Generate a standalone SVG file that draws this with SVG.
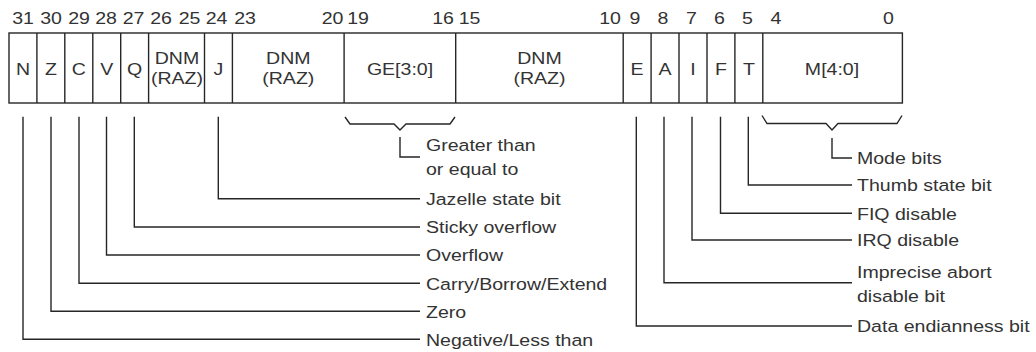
<svg xmlns="http://www.w3.org/2000/svg" width="1036" height="352" viewBox="0 0 1036 352">
<style>
  text { font-family: "Liberation Sans", Arial, sans-serif; font-size: 17px; fill: #333; }
  .c { text-anchor: middle; }
  .box { fill: #fff; stroke: #262626; stroke-width: 1.4; }
  .ln { fill: none; stroke: #262626; stroke-width: 1.4; }
</style>
<rect width="1036" height="352" fill="#fff"/>

<g id="bit-numbers">
  <text class="c" transform="translate(23 23.5) scale(1.15 1)">31</text>
  <text class="c" transform="translate(51 23.5) scale(1.15 1)">30</text>
  <text class="c" transform="translate(79 23.5) scale(1.15 1)">29</text>
  <text class="c" transform="translate(106 23.5) scale(1.15 1)">28</text>
  <text class="c" transform="translate(133.5 23.5) scale(1.15 1)">27</text>
  <text class="c" transform="translate(161 23.5) scale(1.15 1)">26</text>
  <text class="c" transform="translate(189.5 23.5) scale(1.15 1)">25</text>
  <text class="c" transform="translate(216.5 23.5) scale(1.15 1)">24</text>
  <text class="c" transform="translate(245 23.5) scale(1.15 1)">23</text>
  <text class="c" transform="translate(332.5 23.5) scale(1.15 1)">20</text>
  <text class="c" transform="translate(358 23.5) scale(1.15 1)">19</text>
  <text class="c" transform="translate(443 23.5) scale(1.15 1)">16</text>
  <text class="c" transform="translate(469.5 23.5) scale(1.15 1)">15</text>
  <text class="c" transform="translate(610 23.5) scale(1.15 1)">10</text>
  <text class="c" transform="translate(635 23.5) scale(1.15 1)">9</text>
  <text class="c" transform="translate(663 23.5) scale(1.15 1)">8</text>
  <text class="c" transform="translate(691.5 23.5) scale(1.15 1)">7</text>
  <text class="c" transform="translate(719.5 23.5) scale(1.15 1)">6</text>
  <text class="c" transform="translate(747.5 23.5) scale(1.15 1)">5</text>
  <text class="c" transform="translate(776 23.5) scale(1.15 1)">4</text>
  <text class="c" transform="translate(888.5 23.5) scale(1.15 1)">0</text>
</g>

<g id="register">
  <rect class="box" x="9" y="33" width="893.4" height="70"/>
  <g id="field-N"><text class="c" transform="translate(23 74.5) scale(1.15 1)">N</text></g>
  <g id="field-Z"><line class="ln" x1="36.9" y1="33" x2="36.9" y2="103"/><text class="c" transform="translate(50.9 74.5) scale(1.15 1)">Z</text></g>
  <g id="field-C"><line class="ln" x1="64.8" y1="33" x2="64.8" y2="103"/><text class="c" transform="translate(78.8 74.5) scale(1.15 1)">C</text></g>
  <g id="field-V"><line class="ln" x1="92.8" y1="33" x2="92.8" y2="103"/><text class="c" transform="translate(106.8 74.5) scale(1.15 1)">V</text></g>
  <g id="field-Q"><line class="ln" x1="120.7" y1="33" x2="120.7" y2="103"/><text class="c" transform="translate(134.7 74.5) scale(1.15 1)">Q</text></g>
  <g id="field-DNM-26-25"><line class="ln" x1="148.6" y1="33" x2="148.6" y2="103"/>
    <text class="c" transform="translate(177 63.5) scale(1.15 1)">DNM</text>
    <text class="c" transform="translate(177 84) scale(1.15 1)">(RAZ)</text></g>
  <g id="field-J"><line class="ln" x1="204.5" y1="33" x2="204.5" y2="103"/><text class="c" transform="translate(218.4 74.5) scale(1.15 1)">J</text></g>
  <g id="field-DNM-23-20"><line class="ln" x1="232.4" y1="33" x2="232.4" y2="103"/>
    <text class="c" transform="translate(288.3 63.5) scale(1.15 1)">DNM</text>
    <text class="c" transform="translate(288.3 84) scale(1.15 1)">(RAZ)</text></g>
  <g id="field-GE"><line class="ln" x1="344.1" y1="33" x2="344.1" y2="103"/><text class="c" transform="translate(400 74.5) scale(1.15 1)">GE[3:0]</text></g>
  <g id="field-DNM-15-10"><line class="ln" x1="455.7" y1="33" x2="455.7" y2="103"/>
    <text class="c" transform="translate(539.5 63.5) scale(1.15 1)">DNM</text>
    <text class="c" transform="translate(539.5 84) scale(1.15 1)">(RAZ)</text></g>
  <g id="field-E"><line class="ln" x1="623.2" y1="33" x2="623.2" y2="103"/><text class="c" transform="translate(637 74.5) scale(1.15 1)">E</text></g>
  <g id="field-A"><line class="ln" x1="651.1" y1="33" x2="651.1" y2="103"/><text class="c" transform="translate(665 74.5) scale(1.15 1)">A</text></g>
  <g id="field-I"><line class="ln" x1="679" y1="33" x2="679" y2="103"/><text class="c" transform="translate(693 74.5) scale(1.15 1)">I</text></g>
  <g id="field-F"><line class="ln" x1="707" y1="33" x2="707" y2="103"/><text class="c" transform="translate(720.9 74.5) scale(1.15 1)">F</text></g>
  <g id="field-T"><line class="ln" x1="734.9" y1="33" x2="734.9" y2="103"/><text class="c" transform="translate(748.9 74.5) scale(1.15 1)">T</text></g>
  <g id="field-M"><line class="ln" x1="762.8" y1="33" x2="762.8" y2="103"/><text class="c" transform="translate(832 74.5) scale(1.15 1)">M[4:0]</text></g>
</g>

<g id="connectors">
  <path class="ln" d="M23,116.7 V339.3 H420"/>
  <path class="ln" d="M51,116.7 V311.3 H420"/>
  <path class="ln" d="M79,116.7 V283.3 H420"/>
  <path class="ln" d="M106.5,116.7 V255 H420"/>
  <path class="ln" d="M134.3,116.7 V227 H420"/>
  <path class="ln" d="M218.3,116.7 V198.8 H420"/>
  <path class="ln" d="M345,117 L350,124 H394 L400,130 L406,124 H450 L455,117"/>
  <path class="ln" d="M400,137 V157 H420"/>
  <path class="ln" d="M762,115.5 L767,123.5 H826 L832,130 L838,123.5 H897 L902,115.5"/>
  <path class="ln" d="M832,138 V158 H852"/>
  <path class="ln" d="M748.3,116.7 V185 H852"/>
  <path class="ln" d="M720.5,116.7 V213.3 H852"/>
  <path class="ln" d="M692,116.7 V240 H852"/>
  <path class="ln" d="M664,116.7 V282.7 H852"/>
  <path class="ln" d="M636.3,116.7 V326 H852"/>
</g>

<g id="labels-left">
  <g id="label-GE"><text transform="translate(426 151) scale(1.15 1)">Greater than</text>
    <text transform="translate(426 175) scale(1.15 1)">or equal to</text></g>
  <g id="label-J"><text transform="translate(426 205) scale(1.15 1)">Jazelle state bit</text></g>
  <g id="label-Q"><text transform="translate(426 233.3) scale(1.15 1)">Sticky overflow</text></g>
  <g id="label-V"><text transform="translate(426 261.3) scale(1.15 1)">Overflow</text></g>
  <g id="label-C"><text transform="translate(426 289.6) scale(1.15 1)">Carry/Borrow/Extend</text></g>
  <g id="label-Z"><text transform="translate(426 317.6) scale(1.15 1)">Zero</text></g>
  <g id="label-N"><text transform="translate(426 345.6) scale(1.15 1)">Negative/Less than</text></g>
</g>

<g id="labels-right">
  <g id="label-M"><text transform="translate(857 164.3) scale(1.15 1)">Mode bits</text></g>
  <g id="label-T"><text transform="translate(857 191.3) scale(1.15 1)">Thumb state bit</text></g>
  <g id="label-F"><text transform="translate(857 219.6) scale(1.15 1)">FIQ disable</text></g>
  <g id="label-I"><text transform="translate(857 246.3) scale(1.15 1)">IRQ disable</text></g>
  <g id="label-A"><text transform="translate(857 277.5) scale(1.15 1)">Imprecise abort</text>
    <text transform="translate(857 301.5) scale(1.15 1)">disable bit</text></g>
  <g id="label-E"><text transform="translate(857 332.3) scale(1.15 1)">Data endianness bit</text></g>
</g>
</svg>
